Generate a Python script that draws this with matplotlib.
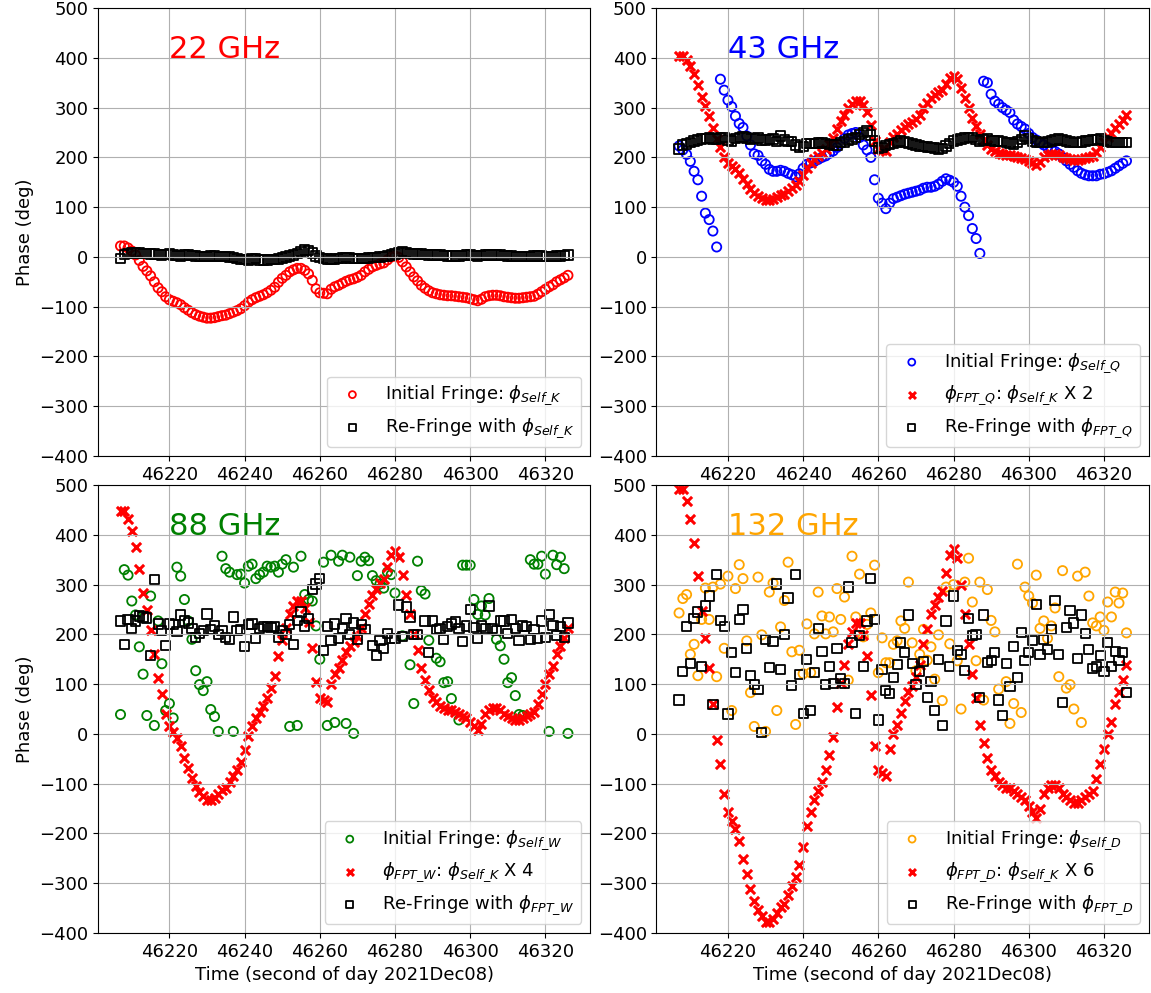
import numpy as np
import matplotlib
matplotlib.use("Agg")
import matplotlib.pyplot as plt

plt.rcParams["font.size"] = 13

# time axis (second of day), 1 s samples
t = np.arange(46207, 46327)

# 22 GHz initial fringe phase (phi_Self_K)
phi_k = [22, 22, 18, 12, 4, -7, -19, -28, -38, -50,
         -62, -70, -80, -86, -89, -92, -96, -102, -107, -112,
         -116, -119, -121, -123, -123, -122, -120, -118, -117, -114,
         -111, -108, -104, -98, -91, -86, -82, -79, -76, -72,
         -67, -61, -51, -43, -37, -30, -26, -23, -23, -27,
         -34, -47, -64, -72, -73, -74, -65, -60, -57, -53,
         -49, -46, -44, -41, -37, -30, -25, -20, -17, -14,
         -12, -6, 0, 2, -1, -10, -20, -30, -40, -48,
         -57, -63, -68, -72, -74, -76, -77, -78, -78, -79,
         -80, -81, -82, -84, -86, -88, -85, -80, -78, -77,
         -77, -78, -80, -81, -82, -83, -83, -82, -81, -80,
         -79, -75, -70, -65, -60, -56, -50, -46, -42, -37]

# 22 GHz re-fringe
refr_k = [-3, 5, 7, 8, 9, 8, 7, 7, 6, 6, 5, 4, 5, 6, 4, 3, 2, 4, 4, 3,
          2, 1, 1, 1, 2, 2, 1, 1, 1, 0, -1, -3, -5, -5, -6, -4, -3, -6, -6, -6,
          -5, -5, -4, -2, 0, 2, 4, 7, 11, 14, 13, 8, 2, -1, -3, -4, -5, -4, -3, -2,
          -1, -2, -3, -3, -3, -3, -2, -1, -1, 0, 1, 2, 4, 6, 8, 11, 9, 7, 6, 6,
          6, 5, 4, 4, 4, 4, 3, 2, 2, 2, 2, 3, 4, 4, 3, 2, 3, 4, 4, 4,
          4, 4, 3, 2, 2, 1, 1, 1, 1, 1, 2, 2, 2, 1, 1, 1, 2, 2, 3, 4]

# 43 GHz initial fringe phase (phi_Self_Q)
phi_q = [223, 215, 206, 192, 172, 155, 122, 88, 75, 52,
         20, 357, 335, 315, 302, 283, 268, 260, 243, 225,
         207, 204, 193, 186, 176, 172, 172, 174, 172, 168,
         165, 161, 167, 178, 186, 189, 192, 196, 200, 203,
         208, 213, 220, 228, 238, 245, 248, 250, 240, 225,
         215, 200, 155, 118, 108, 97, 108, 117, 120, 123,
         126, 128, 130, 132, 134, 138, 140, 140, 142, 146,
         152, 157, 154, 150, 142, 122, 100, 83, 57, 37,
         7, 353, 350, 327, 313, 307, 300, 295, 290, 275,
         267, 262, 257, 248, 240, 235, 230, 225, 220, 217,
         212, 207, 200, 193, 186, 180, 173, 168, 165, 163,
         163, 163, 166, 167, 170, 173, 178, 183, 188, 193]

# 43 GHz re-fringe
refr_q = [217, 225, 227, 230, 233, 235, 237, 238, 239, 237,
          237, 239, 240, 235, 233, 238, 240, 241, 239, 237,
          238, 239, 235, 235, 236, 237, 232, 243, 235, 232,
          232, 225, 221, 222, 228, 228, 228, 229, 230, 228,
          226, 225, 225, 230, 231, 235, 237, 240, 246, 250,
          253, 245, 233, 219, 220, 224, 226, 228, 230, 233,
          231, 229, 227, 225, 223, 222, 221, 220, 219, 217,
          218, 223, 228, 233, 235, 237, 239, 240, 240, 236,
          233, 235, 237, 234, 233, 233, 232, 230, 229, 227,
          231, 236, 243, 238, 233, 231, 230, 230, 231, 233,
          235, 237, 235, 233, 231, 230, 230, 231, 233, 234,
          235, 236, 237, 234, 232, 230, 230, 230, 230, 230]

# 88 GHz initial fringe phase (phi_Self_W)
t_w = [46207, 46208, 46209, 46210, 46211, 46212, 46213, 46214, 46215, 46216,
       46217, 46218, 46219, 46220, 46221, 46222, 46223, 46224, 46225, 46226,
       46227, 46228, 46229, 46230, 46231, 46232, 46233, 46234, 46235, 46236,
       46237, 46238, 46239, 46240, 46241, 46242, 46243, 46244, 46245, 46246,
       46247, 46248, 46249, 46250, 46251, 46252, 46253, 46254, 46255, 46256,
       46257, 46258, 46259, 46260, 46261, 46262, 46263, 46264, 46265, 46266,
       46267, 46268, 46269, 46270, 46271, 46272, 46273, 46274, 46275, 46276,
       46277, 46278, 46279, 46280, 46282, 46284, 46285, 46286, 46287, 46288,
       46289, 46291, 46292, 46293, 46294, 46295, 46297, 46298, 46299, 46300,
       46301, 46302, 46303, 46304, 46305, 46307, 46308, 46309, 46310, 46311,
       46312, 46313, 46314, 46316, 46317, 46318, 46319, 46320, 46321, 46322,
       46323, 46324, 46325, 46326]
phi_w = [39, 330, 319, 267, 239, 175, 120, 37, 277, 17,
         227, 141, 47, 61, 32, 335, 317, 270, 227, 190,
         127, 99, 87, 105, 49, 35, 5, 357, 332, 325,
         5, 320, 321, 303, 337, 341, 312, 320, 325, 337,
         335, 337, 325, 341, 350, 15, 335, 17, 357, 280,
         270, 267, 217, 150, 345, 17, 359, 23, 347, 359,
         21, 355, 1, 318, 347, 355, 348, 318, 308, 301,
         293, 325, 320, 283, 197, 139, 61, 347, 288, 281,
         188, 152, 145, 103, 105, 71, 28, 339, 339, 339,
         270, 240, 257, 239, 272, 190, 177, 150, 103, 113,
         77, 39, 37, 350, 341, 341, 357, 321, 5, 359,
         340, 355, 332, 1]

# 88 GHz re-fringe
t_rw = [46207, 46208, 46209, 46210, 46211, 46212, 46213, 46214, 46215, 46216,
        46217, 46218, 46219, 46220, 46221, 46222, 46223, 46224, 46225, 46226,
        46227, 46228, 46229, 46230, 46231, 46232, 46233, 46234, 46235, 46236,
        46237, 46238, 46239, 46240, 46241, 46242, 46243, 46244, 46245, 46246,
        46247, 46248, 46249, 46250, 46251, 46252, 46253, 46254, 46255, 46256,
        46257, 46258, 46259, 46260, 46261, 46262, 46263, 46264, 46265, 46266,
        46267, 46268, 46269, 46270, 46271, 46272, 46274, 46275, 46276, 46277,
        46278, 46279, 46280, 46281, 46282, 46283, 46284, 46285, 46286, 46288,
        46289, 46290, 46291, 46292, 46293, 46294, 46295, 46296, 46297, 46298,
        46299, 46300, 46301, 46302, 46303, 46304, 46305, 46306, 46307, 46308,
        46309, 46310, 46311, 46312, 46313, 46314, 46315, 46316, 46317, 46318,
        46319, 46320, 46321, 46322, 46323, 46324, 46325, 46326]
refr_w = [227, 180, 230, 211, 227, 237, 235, 233, 157, 310,
          221, 207, 177, 221, 220, 205, 239, 227, 223, 212,
          193, 201, 208, 241, 210, 217, 200, 207, 193, 190,
          235, 207, 210, 175, 220, 221, 192, 212, 215, 215,
          213, 215, 193, 207, 200, 220, 179, 228, 245, 217,
          232, 290, 301, 312, 168, 215, 187, 221, 192, 212,
          232, 199, 223, 190, 220, 210, 177, 157, 187, 172,
          201, 192, 192, 259, 195, 255, 235, 199, 200, 227,
          163, 227, 210, 212, 190, 215, 221, 225, 212, 185,
          217, 250, 213, 192, 217, 212, 257, 212, 207, 227,
          227, 201, 230, 212, 188, 217, 215, 190, 210, 192,
          227, 193, 240, 218, 197, 215, 193, 223]

# 132 GHz initial fringe phase (phi_Self_D)
t_d = [46207, 46208, 46209, 46210, 46211, 46212, 46213, 46214, 46215, 46216,
       46217, 46218, 46219, 46220, 46221, 46222, 46223, 46224, 46225, 46226,
       46227, 46228, 46229, 46230, 46231, 46232, 46233, 46234, 46235, 46236,
       46237, 46238, 46239, 46240, 46241, 46242, 46243, 46244, 46245, 46246,
       46247, 46248, 46249, 46250, 46251, 46252, 46253, 46254, 46255, 46256,
       46257, 46258, 46259, 46260, 46261, 46262, 46263, 46264, 46265, 46266,
       46267, 46268, 46269, 46270, 46271, 46272, 46273, 46274, 46275, 46276,
       46277, 46278, 46279, 46280, 46281, 46282, 46283, 46284, 46285, 46286,
       46287, 46288, 46289, 46290, 46291, 46292, 46294, 46295, 46296, 46297,
       46298, 46299, 46300, 46301, 46302, 46303, 46304, 46305, 46306, 46307,
       46308, 46309, 46310, 46311, 46312, 46313, 46314, 46315, 46316, 46317,
       46318, 46319, 46320, 46321, 46322, 46323, 46324, 46325, 46326]
phi_d = [243, 272, 280, 160, 180, 117, 230, 293, 230, 295,
         115, 301, 172, 317, 47, 292, 340, 312, 187, 83,
         15, 315, 199, 5, 285, 303, 47, 215, 268, 345,
         165, 19, 168, 121, 221, 123, 201, 285, 237, 201,
         235, 205, 292, 230, 275, 108, 357, 235, 321, 195,
         220, 243, 339, 123, 193, 143, 143, 180, 187, 227,
         212, 305, 183, 127, 160, 210, 148, 175, 110, 199,
         67, 295, 181, 300, 147, 50, 305, 353, 265, 147,
         305, 68, 290, 228, 205, 90, 105, 21, 61, 341,
         43, 295, 277, 263, 319, 212, 227, 192, 217, 253,
         115, 328, 92, 99, 50, 317, 23, 325, 277, 223,
         217, 235, 208, 265, 235, 285, 263, 283, 203]

# 132 GHz re-fringe
refr_d = [68, 125, 215, 141, 232, 245, 135, 257, 277, 59,
          321, 228, 215, 40, 163, 123, 230, 250, 172, 117,
          99, 90, 3, 190, 133, 185, 301, 130, 199, 273,
          97, 321, 119, 41, 150, 47, 123, 212, 165, 99,
          135, 101, 172, 112, 101, 295, 183, 41, 197, 135,
          227, 312, 230, 28, 130, 87, 81, 113, 140, 183,
          163, 239, 141, 99, 125, 145, 73, 105, 47, 150,
          17, 227, 135, 277, 167, 159, 128, 232, 197, 200,
          73, 239, 143, 148, 163, 68, 37, 141, 95, 175,
          113, 203, 148, 163, 187, 260, 159, 190, 170, 210,
          268, 160, 63, 213, 248, 223, 152, 239, 201, 170,
          132, 135, 157, 125, 183, 135, 165, 148, 163, 83]

# FPT scaling of phi_Self_K, as stated in the legends
fpt_ratio = {"Q": 2, "W": 4, "D": 6}
fpt_offset = 360

phi_k = np.array(phi_k)

fig, axes = plt.subplots(2, 2, figsize=(11.51, 9.93), dpi=100)
plt.subplots_adjust(left=0.0851, right=0.9983, top=0.9919, bottom=0.0604,
                    wspace=0.134, hspace=0.0647)

panels = [
    (axes[0, 0], "22 GHz", "red", None, None, None, refr_k, t, "Self\\_K"),
    (axes[0, 1], "43 GHz", "blue", t, phi_q, "Q", refr_q, t, "FPT\\_Q"),
    (axes[1, 0], "88 GHz", "green", t_w, phi_w, "W", refr_w, t_rw, "FPT\\_W"),
    (axes[1, 1], "132 GHz", "orange", t_d, phi_d, "D", refr_d, t, "FPT\\_D"),
]

ms = 44
for ax, title, col, ti, phi, band, refr, tr, reflab in panels:
    if phi is None:
        ax.scatter(t, phi_k, s=ms, facecolors="none", edgecolors="red",
                   linewidths=1.3, label=r"Initial Fringe: $\phi_{Self\_K}$")
    else:
        ax.scatter(ti, phi, s=ms, facecolors="none", edgecolors=col,
                   linewidths=1.3, label=r"Initial Fringe: $\phi_{Self\_%s}$" % band)
        n = fpt_ratio[band]
        ax.scatter(t, phi_k * n + fpt_offset, s=ms, marker="x", color="red",
                   linewidths=2.2,
                   label=r"$\phi_{FPT\_%s}$: $\phi_{Self\_K}$ X %d" % (band, n))
    ax.scatter(tr, refr, s=ms, marker="s", facecolors="none", edgecolors="black",
               linewidths=1.3, label=r"Re-Fringe with $\phi_{%s}$" % reflab)
    ax.text(46220, 400, title, color=col, fontsize=22)
    ax.set_xlim(46201.0, 46332.0)
    ax.set_ylim(-400, 500)
    ax.set_xticks([46220, 46240, 46260, 46280, 46300, 46320])
    ax.set_yticks(range(-400, 501, 100))
    ax.grid(True)
    ax.legend(loc="lower right", markerscale=0.75)

axes[0, 0].set_ylabel("Phase (deg)")
axes[1, 0].set_ylabel("Phase (deg)")
axes[1, 0].set_xlabel("Time (second of day 2021Dec08)")
axes[1, 1].set_xlabel("Time (second of day 2021Dec08)")

plt.savefig("out.png")
